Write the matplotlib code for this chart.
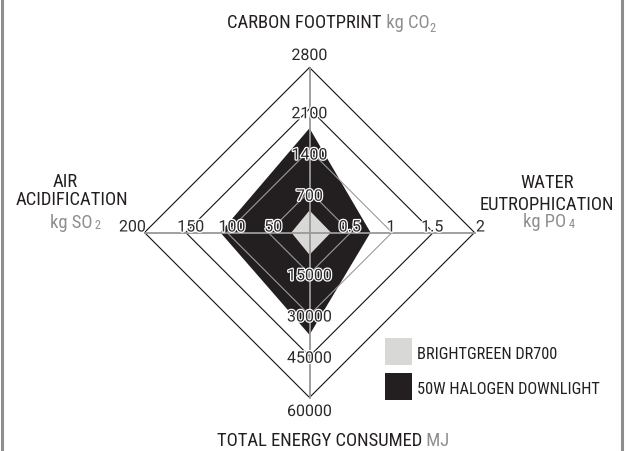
import matplotlib.pyplot as plt
import matplotlib.patheffects as pe
from matplotlib.patches import Rectangle
from matplotlib.lines import Line2D

# axes order: top, right, bottom, left
AXIS_NAMES = ["carbon", "water", "energy", "air"]
AXIS_MAX = [2800, 2, 60000, 200]
TICKS = [
    [700, 1400, 2100, 2800],
    [0.5, 1, 1.5, 2],
    [15000, 30000, 45000, 60000],
    [50, 100, 150, 200],
]
TICK_LABELS = [
    ["700", "1400", "2100", "2800"],
    ["0.5", "1", "1.5", "2"],
    ["15000", "30000", "45000", "60000"],
    ["50", "100", "150", "200"],
]
HALOGEN = [1770, 0.74, 37200, 108]
BRIGHTGREEN = [375, 0.26, 8100, 22]
SERIES_NAMES = ["BRIGHTGREEN DR700", "50W HALOGEN DOWNLIGHT"]

DIRS = [(0, 1), (1, 0), (0, -1), (-1, 0)]
BLACK = "#231f20"
LIGHT = "#d8d8d6"
GREY = "#8e8e8e"
NARROW = ["Roboto Condensed", "Roboto", "DejaVu Sans"]
NUMS = ["Roboto", "DejaVu Sans"]

W, H = 629, 451
R = 165.0              # pixel length of a full axis
CX, CY = 309.5, 232.5  # centre in pixels from top-left


def to_xy(values):
    xs, ys = [], []
    for v, m, (dx, dy) in zip(values, AXIS_MAX, DIRS):
        xs.append(dx * v / m)
        ys.append(dy * v / m)
    return xs, ys


def px(x, y):
    # pixel coords (from top-left) to data coords
    return (x - CX) / R, (CY - y) / R


fig = plt.figure(figsize=(W / 100, H / 100), dpi=100)
ax = fig.add_axes([0, 0, 1, 1])
ax.set_xlim(-CX / R, (W - CX) / R)
ax.set_ylim(-(H - CY) / R, CY / R)
ax.axis("off")

# series
xs, ys = to_xy(HALOGEN)
ax.fill(xs, ys, color=BLACK, zorder=1, lw=0)
xs, ys = to_xy(BRIGHTGREEN)
ax.fill(xs, ys, color=LIGHT, zorder=1.5, lw=0)

# rings
for i in range(4):
    ring = [t[i] for t in TICKS]
    xs, ys = to_xy(ring)
    col = "#9a9a9a" if i < 2 else "#111111"
    ax.plot(xs + xs[:1], ys + ys[:1], color=col, lw=0.8, zorder=2)

# spokes
for dx, dy in DIRS:
    ax.plot([0, dx], [0, dy], color="#999999", lw=1.3, zorder=2)

# tick labels
halo = [pe.withStroke(linewidth=1.8, foreground="white")]
for k, (dx, dy) in enumerate(DIRS):
    for i, (t, lab) in enumerate(zip(TICKS[k], TICK_LABELS[k])):
        r = t / AXIS_MAX[k]
        outer = i == 3
        if k == 0:
            off, va = ((0, 12), "center") if outer else ((0, -5), "center")
        elif k == 2:
            off, va = ((0, -14), "center") if outer else ((0, -2), "center")
        elif k == 1:
            off, va = ((6, 1), "baseline") if outer else ((-1, 1), "baseline")
        else:
            off, va = ((-12, 1), "baseline") if outer else ((5, 1), "baseline")
        ax.annotate(lab, (dx * r, dy * r), xytext=(off[0] * 0.72, off[1] * 0.72),
                    textcoords="offset points", ha="center", va=va,
                    fontsize=11.5, family=NUMS,
                    color="#2a2a2a", path_effects=halo, zorder=3)


def title(x, y, parts, ha="left"):
    # parts: list of (text, color, size, dy)
    prev = None
    for txt, col, size, dy in parts:
        if prev is None:
            prev = ax.text(*px(x, y), txt, color=col, fontsize=size,
                           family=NARROW, ha=ha, va="baseline")
        else:
            prev = ax.annotate(txt, xy=(1, 0), xycoords=prev,
                               xytext=(0, dy), textcoords="offset points",
                               color=col, fontsize=size, family=NARROW,
                               ha="left", va="bottom")
    return prev


TS = 13.4
SUB = 9
title(227, 28, [("CARBON FOOTPRINT", BLACK, TS, 0), (" kg CO", GREY, TS, 0),
                ("2", GREY, SUB, -2)])
ax.text(*px(65, 187), "AIR", color=BLACK, fontsize=TS, family=NARROW,
        ha="center", va="baseline")
ax.text(*px(72, 205), "ACIDIFICATION", color=BLACK, fontsize=TS, family=NARROW,
        ha="center", va="baseline")
title(50, 228, [("kg SO", GREY, TS, 0), (" 2", GREY, SUB, 0)])
ax.text(*px(547, 188), "WATER", color=BLACK, fontsize=TS, family=NARROW,
        ha="center", va="baseline")
ax.text(*px(547, 210), "EUTROPHICATION", color=BLACK, fontsize=TS, family=NARROW,
        ha="center", va="baseline")
title(523, 227, [("kg PO", GREY, TS, 0), (" 4", GREY, SUB, 0)])
title(217, 446, [("TOTAL ENERGY CONSUMED", BLACK, TS, 0), (" MJ", GREY, TS, 0)])

# legend
for j, (name, col) in enumerate(zip(SERIES_NAMES, [LIGHT, BLACK])):
    top = 338 + j * 35
    x0, y0 = px(385, top + 27)
    ax.add_patch(Rectangle((x0, y0), 27 / R, 27 / R, color=col, lw=0))
    ax.text(*px(417, top + 21), name, color=BLACK, fontsize=11.8,
            family=NARROW, ha="left", va="baseline")

# side borders
for bx in (2, 622):
    fig.add_artist(Line2D([bx / W, bx / W], [0, 1], color=GREY, lw=2.2))

fig.savefig("out.png", dpi=100)
